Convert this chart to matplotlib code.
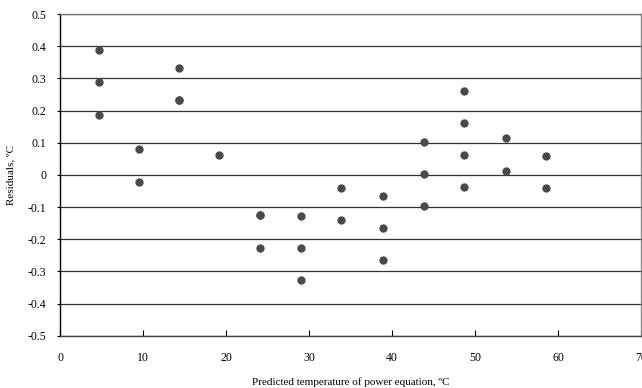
import matplotlib.pyplot as plt
import numpy as np

plt.rcParams['font.family'] = ['Liberation Serif', 'DejaVu Serif']

# predicted temperature (x) and residuals (y)
temp = [4.7, 4.7, 4.7,
        9.5, 9.5,
        14.3, 14.3, 14.3,
        19.2,
        24.1, 24.1, 24.1,
        29.0, 29.0, 29.0,
        33.9, 33.9,
        38.9, 38.9, 38.9,
        43.8, 43.8, 43.8,
        48.7, 48.7, 48.7, 48.7,
        53.7, 53.7,
        58.6, 58.6]
resid = [0.387, 0.288, 0.187,
         0.079, -0.022,
         0.332, 0.233, 0.232,
         0.062,
         -0.125, -0.226, -0.126,
         -0.128, -0.228, -0.327,
         -0.041, -0.141,
         -0.065, -0.165, -0.266,
         0.102, 0.002, -0.098,
         0.261, 0.160, 0.061, -0.039,
         0.114, 0.012,
         0.058, -0.042]

xticks = [0, 10, 20, 30, 40, 50, 60, 70]
yticks = np.round(np.arange(-0.5, 0.51, 0.1), 1)

fig = plt.figure(figsize=(6.42, 3.88), dpi=100)
ax = fig.add_axes([0.0935, 0.1348, 0.905, 0.8291])

ax.scatter(temp, resid, s=36, color="#4a4a4a", zorder=3, linewidths=0)

ax.set_xlim(0, 70)
ax.set_ylim(-0.5, 0.5)
ax.set_xticks(xticks)
ax.set_yticks(yticks)
ax.set_yticklabels(["0" if v == 0 else f"{v:g}" for v in yticks])

ax.grid(axis="y", color="#333333", linewidth=0.9)
ax.set_axisbelow(True)

ax.spines["left"].set_color("black")
ax.spines["bottom"].set_color("#444444")
ax.spines["right"].set_color("#888888")
ax.spines["top"].set_color("#777777")
for s in ax.spines.values():
    s.set_linewidth(1.0)

ax.tick_params(axis="x", direction="in", length=4, labelsize=8.5, pad=12)
ax.tick_params(axis="y", direction="out", length=2, labelsize=8.5, pad=8)

ax.set_xlabel("Predicted temperature of power equation, ºC", fontsize=8, labelpad=9)
ax.set_ylabel("Residuals, ºC", fontsize=8)
ax.yaxis.set_label_coords(-0.077, 0.5)

fig.savefig("out.png", dpi=100)
